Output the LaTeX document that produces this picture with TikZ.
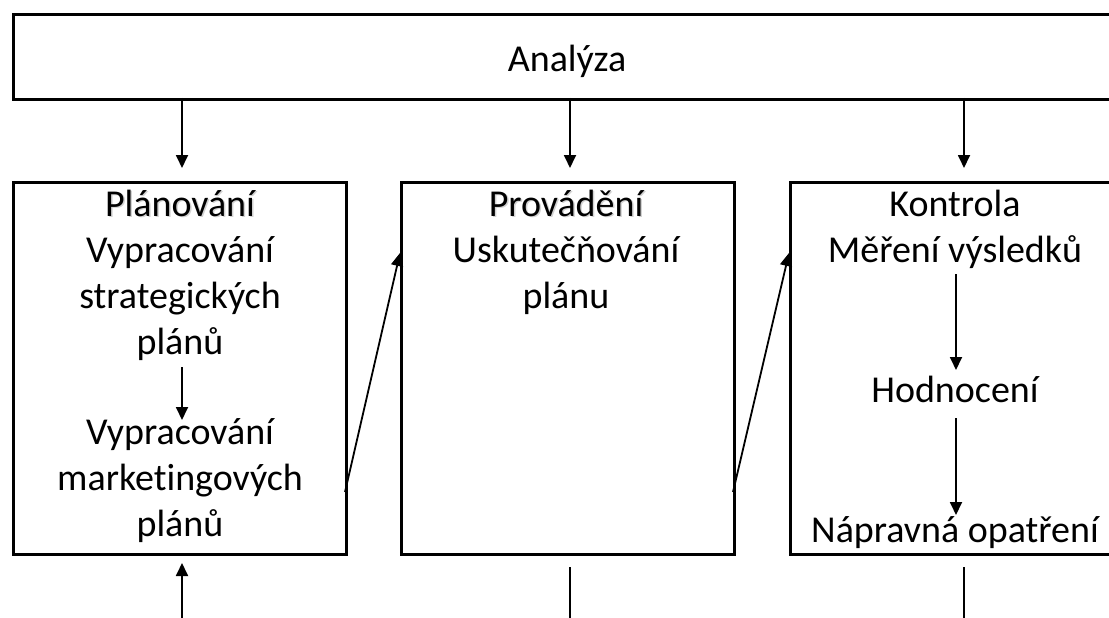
\documentclass[tikz,border=0pt]{standalone}
\usepackage{fontspec}
\setmainfont{Carlito}[Ligatures=NoCommon]
\usetikzlibrary{arrows.meta}
\begin{document}
\begin{tikzpicture}[x=1pt,y=-1pt,
  box/.style={draw=black,line width=2.6pt,inner sep=0pt,anchor=north west},
  txt/.style={inner sep=0pt,anchor=base,align=center,font=\fontsize{38}{46}\selectfont},
  arr/.style={line width=1.8pt,-{Triangle[length=13pt,width=12pt]}},
  ln/.style={line width=1.8pt},
  shadowtxt/.style={txt,text=black!35}
]
\useasboundingbox (0,0) rectangle (1109,618);
\clip (0,0) rectangle (1109,618);
% boxes
\node[box,minimum width=1109pt,minimum height=85pt] (ana) at (12,13) {};
\node[box,minimum width=333pt,minimum height=372pt] (plan) at (12,181) {};
\node[box,minimum width=333pt,minimum height=372pt] (prov) at (400,181) {};
\node[box,minimum width=333pt,minimum height=372pt] (kont) at (789,181) {};
% texts (base anchor of a multi-line node = baseline of its last line)
\node[txt] (tana) at (567,72) {Analýza};
\node[shadowtxt,opacity=0.5] at (181.5,217.5) {Plánování};
\node[txt] (tplan) at (180,216) {Plánování};
\node[txt] (plan1) at (180,354) {Vypracování\\strategických\\plánů};
\node[txt] (plan2) at (180,536) {Vypracování\\marketingových\\plánů};
\node[shadowtxt,opacity=0.5] at (567.5,217.5) {Provádění};
\node[txt] (tprov) at (566,216) {Provádění};
\node[txt] (prov1) at (566,308) {Uskutečňování\\plánu};
\node[txt] (tkont) at (955,216) {Kontrola};
\node[txt] (k1) at (955,262) {Měření výsledků};
\node[txt] (k2) at (955,402) {Hodnocení};
\node[txt] (k3) at (955,542) {Nápravná opatření};
% arrow endpoints
\coordinate (a1) at (182,98);  \coordinate (b1) at (182,168);
\coordinate (a2) at (570,98);  \coordinate (b2) at (570,168);
\coordinate (a3) at (964,98);  \coordinate (b3) at (964,168);
\coordinate (p1s) at (182,367); \coordinate (p2n) at (182,420);
\coordinate (k1s) at (956,274); \coordinate (k2n) at (956,370);
\coordinate (k2s) at (956,418); \coordinate (k3n) at (956,515);
\coordinate (d1s) at (345,492); \coordinate (d1e) at (400,253);
\coordinate (d2s) at (733,492); \coordinate (d2e) at (789,253);
\coordinate (u1s) at (182,618); \coordinate (u1e) at (182,563);
\coordinate (l2s) at (570,567); \coordinate (l2e) at (570,618);
\coordinate (l3s) at (964,567); \coordinate (l3e) at (964,618);
% connectors
\draw[arr] (a1) -- (b1);
\draw[arr] (a2) -- (b2);
\draw[arr] (a3) -- (b3);
\draw[arr] (p1s) -- (p2n);
\draw[arr] (k1s) -- (k2n);
\draw[arr] (k2s) -- (k3n);
\draw[arr] (d1s) -- (d1e);
\draw[arr] (d2s) -- (d2e);
\draw[arr] (u1s) -- (u1e);
\draw[ln] (l2s) -- (l2e);
\draw[ln] (l3s) -- (l3e);
\end{tikzpicture}
\end{document}
